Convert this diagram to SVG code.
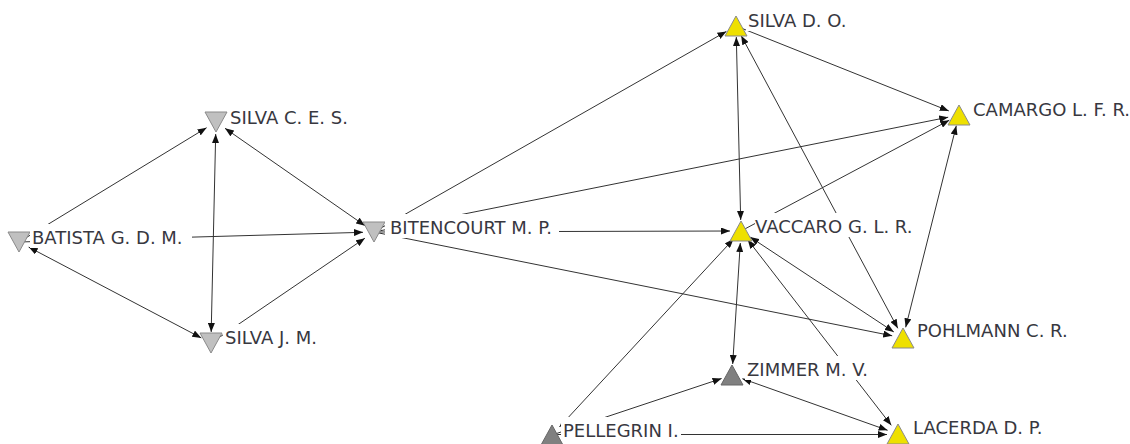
<svg xmlns="http://www.w3.org/2000/svg" width="1130" height="444" viewBox="0 0 1130 444">
<style>
.e{stroke:#333;stroke-width:1;fill:none}
.a{marker-end:url(#ah)}
.b{marker-start:url(#ah);marker-end:url(#ah)}
.bg{fill:#fff}
.t{font-family:"DejaVu Sans",Verdana,sans-serif;font-size:18px;fill:#38383f}
.g1{fill:#c0c0c0;stroke:#8a8a8a;stroke-width:1}
.g2{fill:#eee000;stroke:#8a8a8a;stroke-width:1}
.g3{fill:#808080;stroke:#666;stroke-width:1}
</style>
<defs>
<marker id="ah" markerUnits="userSpaceOnUse" markerWidth="10" markerHeight="7" refX="9" refY="3.5" orient="auto-start-reverse">
<path d="M0,0 L9,3.5 L0,7 z" fill="#111"/>
</marker>
</defs>
<rect width="1130" height="444" fill="#fff"/>
<g id="connectors">
<line class="e a" x1="19" y1="242" x2="206.6" y2="127.7"/>
<line class="e b" x1="28.7" y1="247.1" x2="201.3" y2="337.9"/>
<line class="e a" x1="19" y1="242" x2="363" y2="232.3"/>
<line class="e b" x1="215.7" y1="134" x2="211.2" y2="332"/>
<line class="e b" x1="225" y1="128.3" x2="365" y2="225.7"/>
<line class="e a" x1="211" y1="343" x2="364.9" y2="238.2"/>
<line class="e a" x1="374" y1="232" x2="726.4" y2="31.4"/>
<line class="e a" x1="374" y1="232" x2="948.2" y2="117.2"/>
<line class="e a" x1="374" y1="232" x2="730" y2="231"/>
<line class="e a" x1="374" y1="232" x2="892.2" y2="335.8"/>
<line class="e b" x1="736.3" y1="37" x2="740.7" y2="220"/>
<line class="e a" x1="736" y1="26" x2="948.8" y2="110.9"/>
<line class="e b" x1="741.2" y1="35.7" x2="897.8" y2="328.3"/>
<line class="e a" x1="741" y1="231" x2="949.3" y2="120.2"/>
<line class="e b" x1="750.2" y1="237.1" x2="893.8" y2="331.9"/>
<line class="e b" x1="956.3" y1="125.7" x2="905.7" y2="327.3"/>
<line class="e b" x1="740.3" y1="243" x2="732.7" y2="364"/>
<line class="e b" x1="733.5" y1="239.1" x2="559.5" y2="426.9"/>
<line class="e b" x1="747.7" y1="239.7" x2="891.3" y2="425.3"/>
<line class="e b" x1="742.4" y1="378.7" x2="887.6" y2="430.3"/>
<line class="e a" x1="552" y1="435" x2="721.6" y2="378.5"/>
<line class="e a" x1="552" y1="434.5" x2="887" y2="434.5"/>
</g>
<g id="n-batista"><polygon class="g1" points="8,232 30,232 19,252"/><rect class="bg" x="30" y="224" width="162" height="24"/><text class="t" x="32" y="244">BATISTA G. D. M.</text></g>
<g id="n-silva-ces"><polygon class="g1" points="205,112 227,112 216,132"/><rect class="bg" x="228" y="104" width="127" height="24"/><text class="t" x="230" y="124">SILVA C. E. S.</text></g>
<g id="n-silva-jm"><polygon class="g1" points="200,333 222,333 211,353"/><rect class="bg" x="223" y="324" width="102" height="24"/><text class="t" x="225" y="344">SILVA J. M.</text></g>
<g id="n-bitencourt"><polygon class="g1" points="363,222 385,222 374,242"/><rect class="bg" x="385" y="214" width="174" height="24"/><text class="t" x="390" y="234">BITENCOURT M. P.</text></g>
<g id="n-silva-do"><polygon class="g2" points="736,16 725,36 747,36"/><rect class="bg" x="746" y="7" width="107" height="24"/><text class="t" x="748" y="27">SILVA D. O.</text></g>
<g id="n-camargo"><polygon class="g2" points="959,105 948,125 970,125"/><rect class="bg" x="971" y="96" width="156" height="24"/><text class="t" x="973" y="116">CAMARGO L. F. R.</text></g>
<g id="n-vaccaro"><polygon class="g2" points="741,221 730,241 752,241"/><rect class="bg" x="755" y="213" width="156" height="24"/><text class="t" x="755" y="233">VACCARO G. L. R.</text></g>
<g id="n-pohlmann"><polygon class="g2" points="903,328 892,348 914,348"/><rect class="bg" x="915" y="317" width="151" height="24"/><text class="t" x="917" y="337">POHLMANN C. R.</text></g>
<g id="n-zimmer"><polygon class="g3" points="732,365 721,385 743,385"/><rect class="bg" x="745" y="356" width="125" height="24"/><text class="t" x="747" y="376">ZIMMER M. V.</text></g>
<g id="n-pellegrin"><polygon class="g3" points="552,425 541,445 563,445"/><rect class="bg" x="561" y="417" width="120" height="24"/><text class="t" x="563" y="437">PELLEGRIN I.</text></g>
<g id="n-lacerda"><polygon class="g2" points="898,424 887,444 909,444"/><rect class="bg" x="911" y="414" width="127" height="24"/><text class="t" x="913" y="434">LACERDA D. P.</text></g>
</svg>
